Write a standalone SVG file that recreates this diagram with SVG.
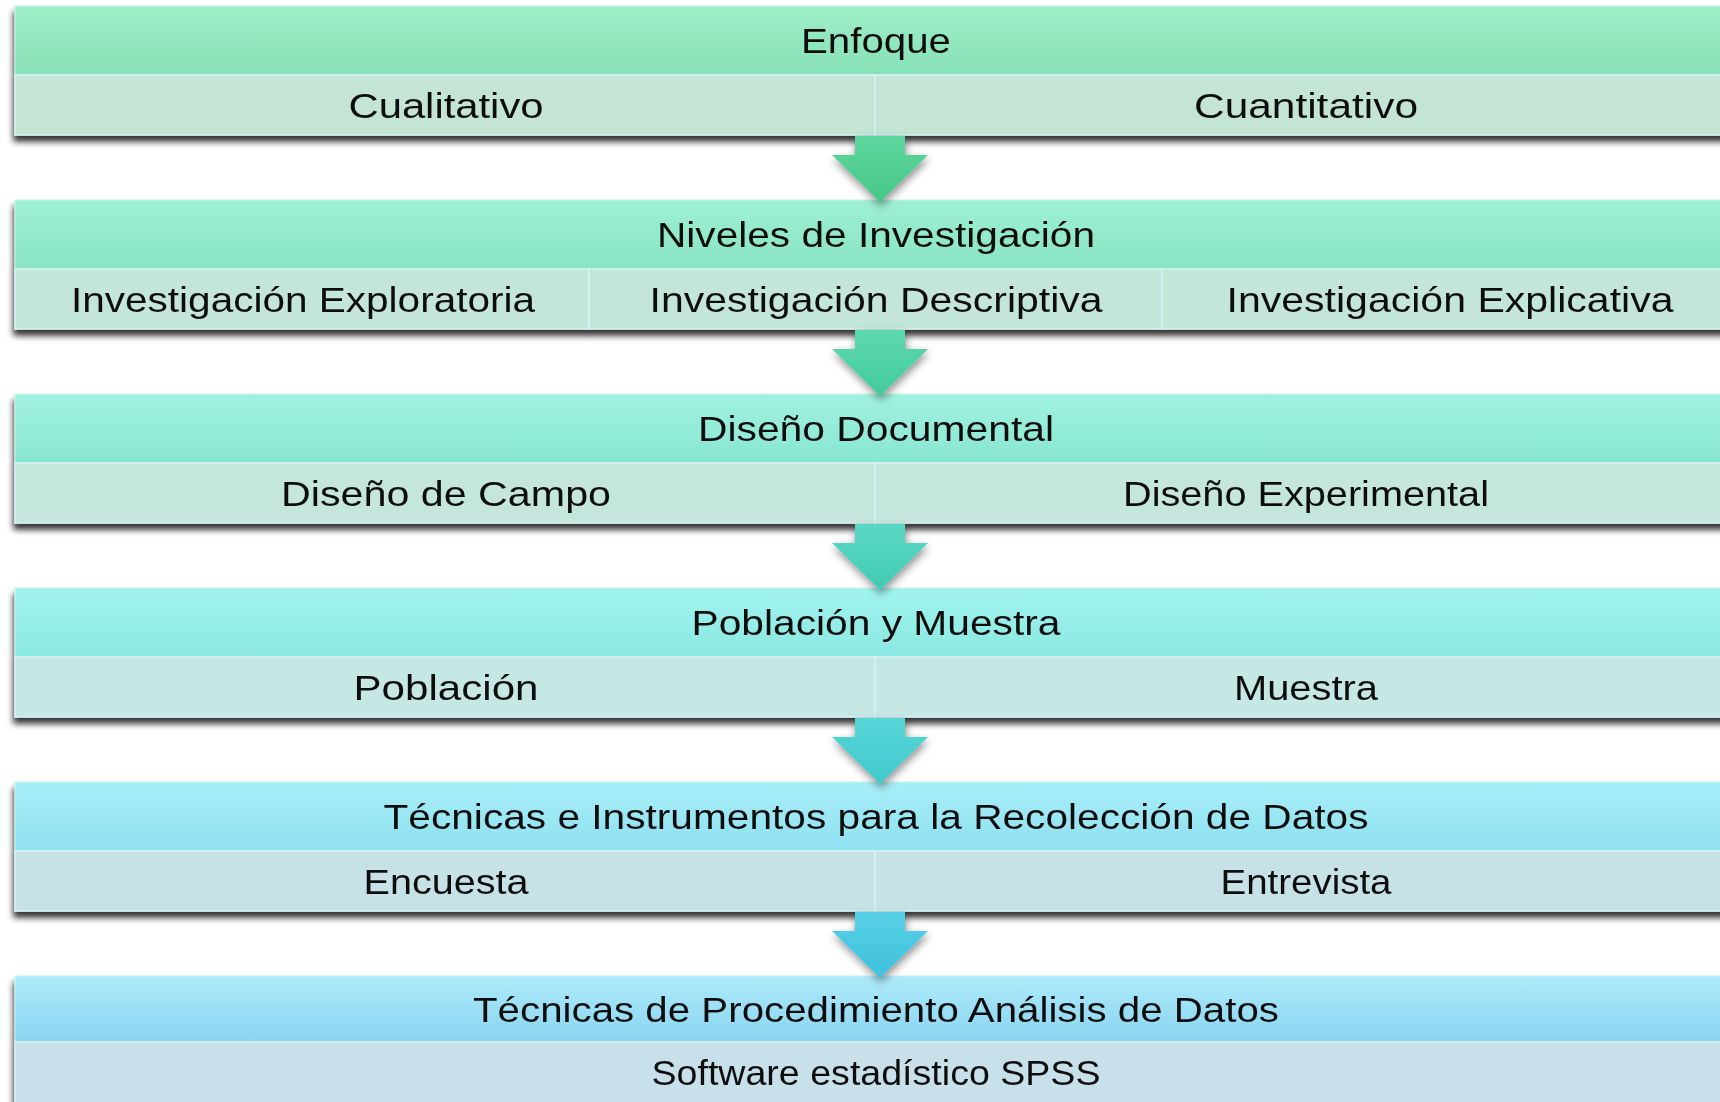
<svg xmlns="http://www.w3.org/2000/svg" width="1720" height="1102" viewBox="0 0 1720 1102">
<defs>
<filter id="sh" x="-5%" y="-20%" width="110%" height="160%">
<feDropShadow dx="-1" dy="6" stdDeviation="3.2" flood-color="#000" flood-opacity="0.8"/>
</filter>
<filter id="ash" x="-30%" y="-30%" width="160%" height="170%">
<feDropShadow dx="1" dy="4" stdDeviation="4" flood-color="#000" flood-opacity="0.45"/>
</filter>
<linearGradient id="h1" x1="0" y1="0" x2="0" y2="1"><stop offset="0" stop-color="#9eeec8"/><stop offset="1" stop-color="#86e0b6"/></linearGradient>
<linearGradient id="h2" x1="0" y1="0" x2="0" y2="1"><stop offset="0" stop-color="#9ef0d4"/><stop offset="1" stop-color="#88e4c2"/></linearGradient>
<linearGradient id="h3" x1="0" y1="0" x2="0" y2="1"><stop offset="0" stop-color="#a0f2e0"/><stop offset="1" stop-color="#88e6d0"/></linearGradient>
<linearGradient id="h4" x1="0" y1="0" x2="0" y2="1"><stop offset="0" stop-color="#a2f4ee"/><stop offset="1" stop-color="#8ae8e2"/></linearGradient>
<linearGradient id="h5" x1="0" y1="0" x2="0" y2="1"><stop offset="0" stop-color="#a8eef8"/><stop offset="1" stop-color="#8ee0f0"/></linearGradient>
<linearGradient id="h6" x1="0" y1="0" x2="0" y2="1"><stop offset="0" stop-color="#aeeafa"/><stop offset="1" stop-color="#88d4f0"/></linearGradient>
<linearGradient id="a1" x1="0" y1="0" x2="0" y2="1"><stop offset="0" stop-color="#5ed69e"/><stop offset="1" stop-color="#46c886"/></linearGradient>
<linearGradient id="a2" x1="0" y1="0" x2="0" y2="1"><stop offset="0" stop-color="#5cd8b0"/><stop offset="1" stop-color="#44ca9c"/></linearGradient>
<linearGradient id="a3" x1="0" y1="0" x2="0" y2="1"><stop offset="0" stop-color="#5ad8c4"/><stop offset="1" stop-color="#42cab2"/></linearGradient>
<linearGradient id="a4" x1="0" y1="0" x2="0" y2="1"><stop offset="0" stop-color="#58d6d8"/><stop offset="1" stop-color="#40c8cc"/></linearGradient>
<linearGradient id="a5" x1="0" y1="0" x2="0" y2="1"><stop offset="0" stop-color="#58d0e8"/><stop offset="1" stop-color="#3ec0dc"/></linearGradient>
</defs>
<style>
text{font-family:"Liberation Sans",Arial,sans-serif;font-size:35px;fill:#111;text-anchor:middle}
.sub{stroke:#d6f2f6;stroke-width:1.5}
.hdr{stroke:#c8f4ee;stroke-width:1}
</style>

<g id="section1" filter="url(#sh)">
<g id="enfoque"><rect class="hdr" x="15" y="6" width="1721" height="69" fill="url(#h1)"/><text x="876" y="53" textLength="150" lengthAdjust="spacingAndGlyphs">Enfoque</text></g>
<g id="cualitativo"><rect class="sub" x="15" y="75" width="860" height="60" fill="#c4e4d4"/><text x="446" y="118" textLength="195" lengthAdjust="spacingAndGlyphs">Cualitativo</text></g>
<g id="cuantitativo"><rect class="sub" x="875" y="75" width="861" height="60" fill="#c4e4d4"/><text x="1306" y="118" textLength="224" lengthAdjust="spacingAndGlyphs">Cuantitativo</text></g>
</g>

<g id="section2" filter="url(#sh)">
<g id="niveles"><rect class="hdr" x="15" y="200" width="1721" height="69" fill="url(#h2)"/><text x="876" y="247" textLength="438" lengthAdjust="spacingAndGlyphs">Niveles de Investigación</text></g>
<g id="exploratoria"><rect class="sub" x="15" y="269" width="574" height="60" fill="#c4e6d8"/><text x="303" y="312" textLength="464" lengthAdjust="spacingAndGlyphs">Investigación Exploratoria</text></g>
<g id="descriptiva"><rect class="sub" x="589" y="269" width="573" height="60" fill="#c4e6d8"/><text x="876" y="312" textLength="453" lengthAdjust="spacingAndGlyphs">Investigación Descriptiva</text></g>
<g id="explicativa"><rect class="sub" x="1162" y="269" width="574" height="60" fill="#c4e6d8"/><text x="1450" y="312" textLength="447" lengthAdjust="spacingAndGlyphs">Investigación Explicativa</text></g>
</g>

<g id="section3" filter="url(#sh)">
<g id="documental"><rect class="hdr" x="15" y="394" width="1721" height="69" fill="url(#h3)"/><text x="876" y="441" textLength="356" lengthAdjust="spacingAndGlyphs">Diseño Documental</text></g>
<g id="campo"><rect class="sub" x="15" y="463" width="860" height="60" fill="#c4e6dc"/><text x="446" y="506" textLength="330" lengthAdjust="spacingAndGlyphs">Diseño de Campo</text></g>
<g id="experimental"><rect class="sub" x="875" y="463" width="861" height="60" fill="#c4e6dc"/><text x="1306" y="506" textLength="366" lengthAdjust="spacingAndGlyphs">Diseño Experimental</text></g>
</g>

<g id="section4" filter="url(#sh)">
<g id="poblacion-muestra"><rect class="hdr" x="15" y="588" width="1721" height="69" fill="url(#h4)"/><text x="876" y="635" textLength="369" lengthAdjust="spacingAndGlyphs">Población y Muestra</text></g>
<g id="poblacion"><rect class="sub" x="15" y="657" width="860" height="60" fill="#c6e8e4"/><text x="446" y="700" textLength="185" lengthAdjust="spacingAndGlyphs">Población</text></g>
<g id="muestra"><rect class="sub" x="875" y="657" width="861" height="60" fill="#c6e8e4"/><text x="1306" y="700" textLength="144" lengthAdjust="spacingAndGlyphs">Muestra</text></g>
</g>

<g id="section5" filter="url(#sh)">
<g id="tecnicas-recoleccion"><rect class="hdr" x="15" y="782" width="1721" height="69" fill="url(#h5)"/><text x="876" y="829" textLength="985" lengthAdjust="spacingAndGlyphs">Técnicas e Instrumentos para la Recolección de Datos</text></g>
<g id="encuesta"><rect class="sub" x="15" y="851" width="860" height="60" fill="#c6e2e6"/><text x="446" y="894" textLength="165" lengthAdjust="spacingAndGlyphs">Encuesta</text></g>
<g id="entrevista"><rect class="sub" x="875" y="851" width="861" height="60" fill="#c6e2e6"/><text x="1306" y="894" textLength="171" lengthAdjust="spacingAndGlyphs">Entrevista</text></g>
</g>

<g id="section6" filter="url(#sh)">
<g id="tecnicas-analisis"><rect class="hdr" x="15" y="976" width="1721" height="66" fill="url(#h6)"/><text x="876" y="1022" textLength="806" lengthAdjust="spacingAndGlyphs">Técnicas de Procedimiento Análisis de Datos</text></g>
<g id="spss"><rect class="sub" x="15" y="1042" width="1721" height="70" fill="#c8e0ea"/><text x="876" y="1085" textLength="449" lengthAdjust="spacingAndGlyphs">Software estadístico SPSS</text></g>
</g>

<g id="connectors" filter="url(#ash)">
<path d="M855 136 H905 V155 H928 L880 202 L832 155 H855 Z" fill="url(#a1)"/>
<path d="M855 330 H905 V349 H928 L880 396 L832 349 H855 Z" fill="url(#a2)"/>
<path d="M855 524 H905 V543 H928 L880 590 L832 543 H855 Z" fill="url(#a3)"/>
<path d="M855 718 H905 V737 H928 L880 784 L832 737 H855 Z" fill="url(#a4)"/>
<path d="M855 912 H905 V931 H928 L880 978 L832 931 H855 Z" fill="url(#a5)"/>
</g>
</svg>
